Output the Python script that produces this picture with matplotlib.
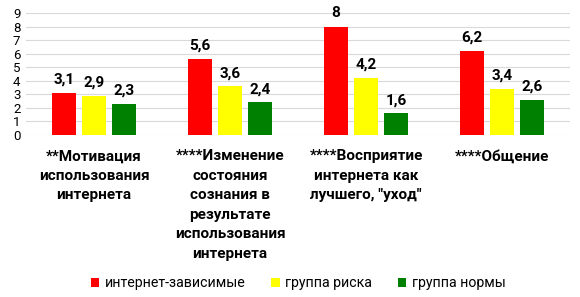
import numpy as np
from matplotlib import pyplot as plt

plt.rcParams['font.family'] = ['Roboto', 'DejaVu Sans']

categories = [
    '**Мотивация\nиспользования\nинтернета',
    '****Изменение\nсостояния\nсознания в\nрезультате\nиспользования\nинтернета',
    '****Восприятие\nинтернета как\nлучшего, "уход"',
    '****Общение',
]
series_names = ['интернет-зависимые', 'группа риска', 'группа нормы']
dependent = [3.1, 5.6, 8.0, 6.2]
risk = [2.9, 3.6, 4.2, 3.4]
normal = [2.3, 2.4, 1.6, 2.6]
value_labels = [['3,1', '5,6', '8', '6,2'],
                ['2,9', '3,6', '4,2', '3,4'],
                ['2,3', '2,4', '1,6', '2,6']]
colors = ['#ff0000', '#ffff00', '#008000']

fig = plt.figure(figsize=(5.8, 2.97), dpi=100)
ax = fig.add_axes([26 / 580, 1 - 135 / 297, 544 / 580, 122 / 297])

x = np.arange(len(categories))
width = 0.172
step = 0.22
for i, (vals, name, col) in enumerate(zip([dependent, risk, normal], series_names, colors)):
    pos = x + (i - 1) * step
    bars = ax.bar(pos, vals, width, color=col, label=name, zorder=3)
    for b, lab in zip(bars, value_labels[i]):
        ax.text(b.get_x() + b.get_width() / 2, b.get_height() + 0.45, lab,
                ha='center', va='bottom', fontsize=11, fontweight='bold')

ax.set_xlim(-0.5, len(categories) - 0.5)
ax.set_ylim(0, 9)
ax.set_yticks(range(10))
ax.tick_params(axis='y', length=0, labelsize=9.5, pad=4)
ax.tick_params(axis='x', length=0)
ax.set_xticks([])
ax.yaxis.grid(True, color='#d9d9d9', linewidth=0.8, zorder=0)
for s in ax.spines.values():
    s.set_visible(False)

for xi, cat in zip(x, categories):
    ax.text(xi, -1.05, cat, ha='center', va='top', fontsize=11, fontweight='bold',
            linespacing=1.5)

fig.legend(loc='center', bbox_to_anchor=(0.514, 1 - 283 / 297), ncol=3, frameon=False,
           fontsize=10.2, handlelength=0.6, handleheight=0.6, handletextpad=0.4,
           columnspacing=1.8)

fig.savefig('out.png', dpi=100)
